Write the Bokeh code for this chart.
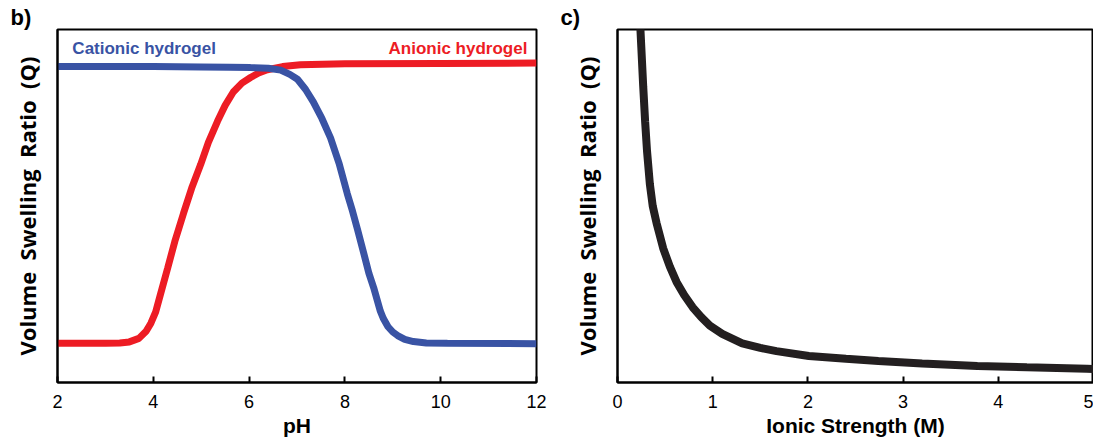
from bokeh.plotting import figure
from bokeh.layouts import row
from bokeh.models import Range1d, FixedTicker, Label, Title
from bokeh.embed import file_html
from bokeh.resources import INLINE

# ---- data ----
ph_anionic = [2.0, 2.5, 3.0, 3.3, 3.5, 3.7, 3.85, 3.95, 4.05, 4.15, 4.3, 4.45, 4.63, 4.8,
              4.99, 5.15, 5.34, 5.5, 5.67, 5.85, 6.03, 6.2, 6.38, 6.7, 7.07, 8.0, 10.0, 12.0]
q_anionic = [0.111, 0.111, 0.111, 0.112, 0.115, 0.125, 0.145, 0.168, 0.20, 0.25, 0.324, 0.40,
             0.479, 0.55, 0.618, 0.68, 0.740, 0.785, 0.823, 0.848, 0.864, 0.877, 0.886, 0.895,
             0.900, 0.903, 0.904, 0.905]

ph_cationic = [2.0, 4.0, 5.0, 5.6, 6.03, 6.4, 6.66, 6.85, 7.01, 7.18, 7.34, 7.52, 7.70, 7.88,
               8.05, 8.16, 8.26, 8.39, 8.50, 8.60, 8.74, 8.80, 8.90, 9.0, 9.10, 9.25, 9.43,
               9.7, 10.14, 12.0]
q_cationic = [0.895, 0.895, 0.894, 0.893, 0.892, 0.890, 0.885, 0.873, 0.859, 0.83, 0.795,
              0.748, 0.693, 0.62, 0.535, 0.485, 0.435, 0.368, 0.31, 0.269, 0.202, 0.182,
              0.158, 0.143, 0.133, 0.122, 0.116, 0.112, 0.111, 0.110]

ionic = [0.23, 0.25, 0.27, 0.29, 0.31, 0.34, 0.37, 0.41, 0.48, 0.55, 0.62, 0.70, 0.79, 0.88,
         0.97, 1.1, 1.31, 1.5, 1.67, 2.01, 2.4, 2.74, 3.2, 3.78, 4.3, 4.93, 5.0]
q_ionic = [1.06, 0.95, 0.839, 0.74, 0.656, 0.562, 0.50, 0.452, 0.380, 0.328, 0.285, 0.248,
           0.213, 0.185, 0.161, 0.138, 0.111, 0.098, 0.089, 0.075, 0.067, 0.061, 0.054,
           0.047, 0.043, 0.039, 0.038]

ph_ticks = [2, 4, 6, 8, 10, 12]
ionic_ticks = [0, 1, 2, 3, 4, 5]

RED = "#ED1C24"
BLUE = "#3953A4"
BLACK = "#231F20"
SANS = "Liberation Sans"
YLAB = "Volume\u00a0 Swelling\u00a0 Ratio\u00a0 (Q)"


def style(p, xlabel, ticks, panel, panel_offset):
    p.grid.visible = False
    p.outline_line_color = "black"
    p.outline_line_width = 2
    p.background_fill_color = "white"
    p.border_fill_color = "white"
    xa = p.xaxis[0]
    xa.ticker = FixedTicker(ticks=ticks)
    xa.axis_line_width = 2
    xa.axis_line_color = "black"
    xa.major_tick_in = 6
    xa.major_tick_out = 0
    xa.major_tick_line_width = 2
    xa.minor_tick_line_color = None
    xa.major_label_text_font = SANS
    xa.major_label_text_font_size = "18px"
    xa.major_label_text_color = "black"
    xa.major_label_standoff = 12
    xa.axis_label = xlabel
    xa.axis_label_text_font = SANS
    xa.axis_label_text_font_size = "21px"
    xa.axis_label_text_font_style = "bold"
    xa.axis_label_text_color = "black"
    xa.axis_label_standoff = 3
    ya = p.yaxis[0]
    ya.ticker = FixedTicker(ticks=[])
    ya.axis_line_width = 2
    ya.axis_line_color = "black"
    ya.major_tick_line_color = None
    ya.minor_tick_line_color = None
    ya.axis_label = YLAB
    ya.axis_label_text_font = "Open Sans"
    ya.axis_label_text_font_size = "22px"
    ya.axis_label_text_font_style = "bold"
    ya.axis_label_text_color = "black"
    ya.axis_label_standoff = 16
    p.add_layout(Title(text=panel, align="left", offset=panel_offset, standoff=0,
                       text_font=SANS, text_font_size="22px", text_font_style="bold",
                       text_color="black"), "above")


# ---- left panel (pH) ----
p1 = figure(width=548, height=439, output_backend="svg", toolbar_location=None,
            x_range=Range1d(2, 12), y_range=Range1d(0, 1),
            min_border_left=57, min_border_right=12, min_border_top=29, min_border_bottom=49)
style(p1, "pH", ph_ticks, "b)", -47)
p1.line(ph_anionic, q_anionic, line_color=RED, line_width=7)
p1.line(ph_cationic, q_cationic, line_color=BLUE, line_width=7)
p1.add_layout(Label(x=2.31, y=0.947, text="Cationic hydrogel", text_color=BLUE,
                    text_font=SANS, text_font_size="17px", text_font_style="bold",
                    text_baseline="middle", text_align="left"))
p1.add_layout(Label(x=11.81, y=0.947, text="Anionic hydrogel", text_color=RED,
                    text_font=SANS, text_font_size="17px", text_font_style="bold",
                    text_baseline="middle", text_align="right"))

# ---- right panel (ionic strength) ----
p2 = figure(width=545, height=439, output_backend="svg", toolbar_location=None,
            x_range=Range1d(0, 5), y_range=Range1d(0, 1),
            min_border_left=69, min_border_right=0, min_border_top=29, min_border_bottom=49)
style(p2, "Ionic Strength (M)", ionic_ticks, "c)", -57)
p2.line(ionic, q_ionic, line_color=BLACK, line_width=8)

layout = row(p1, p2)
open("out.html", "w").write(file_html(layout, INLINE))
